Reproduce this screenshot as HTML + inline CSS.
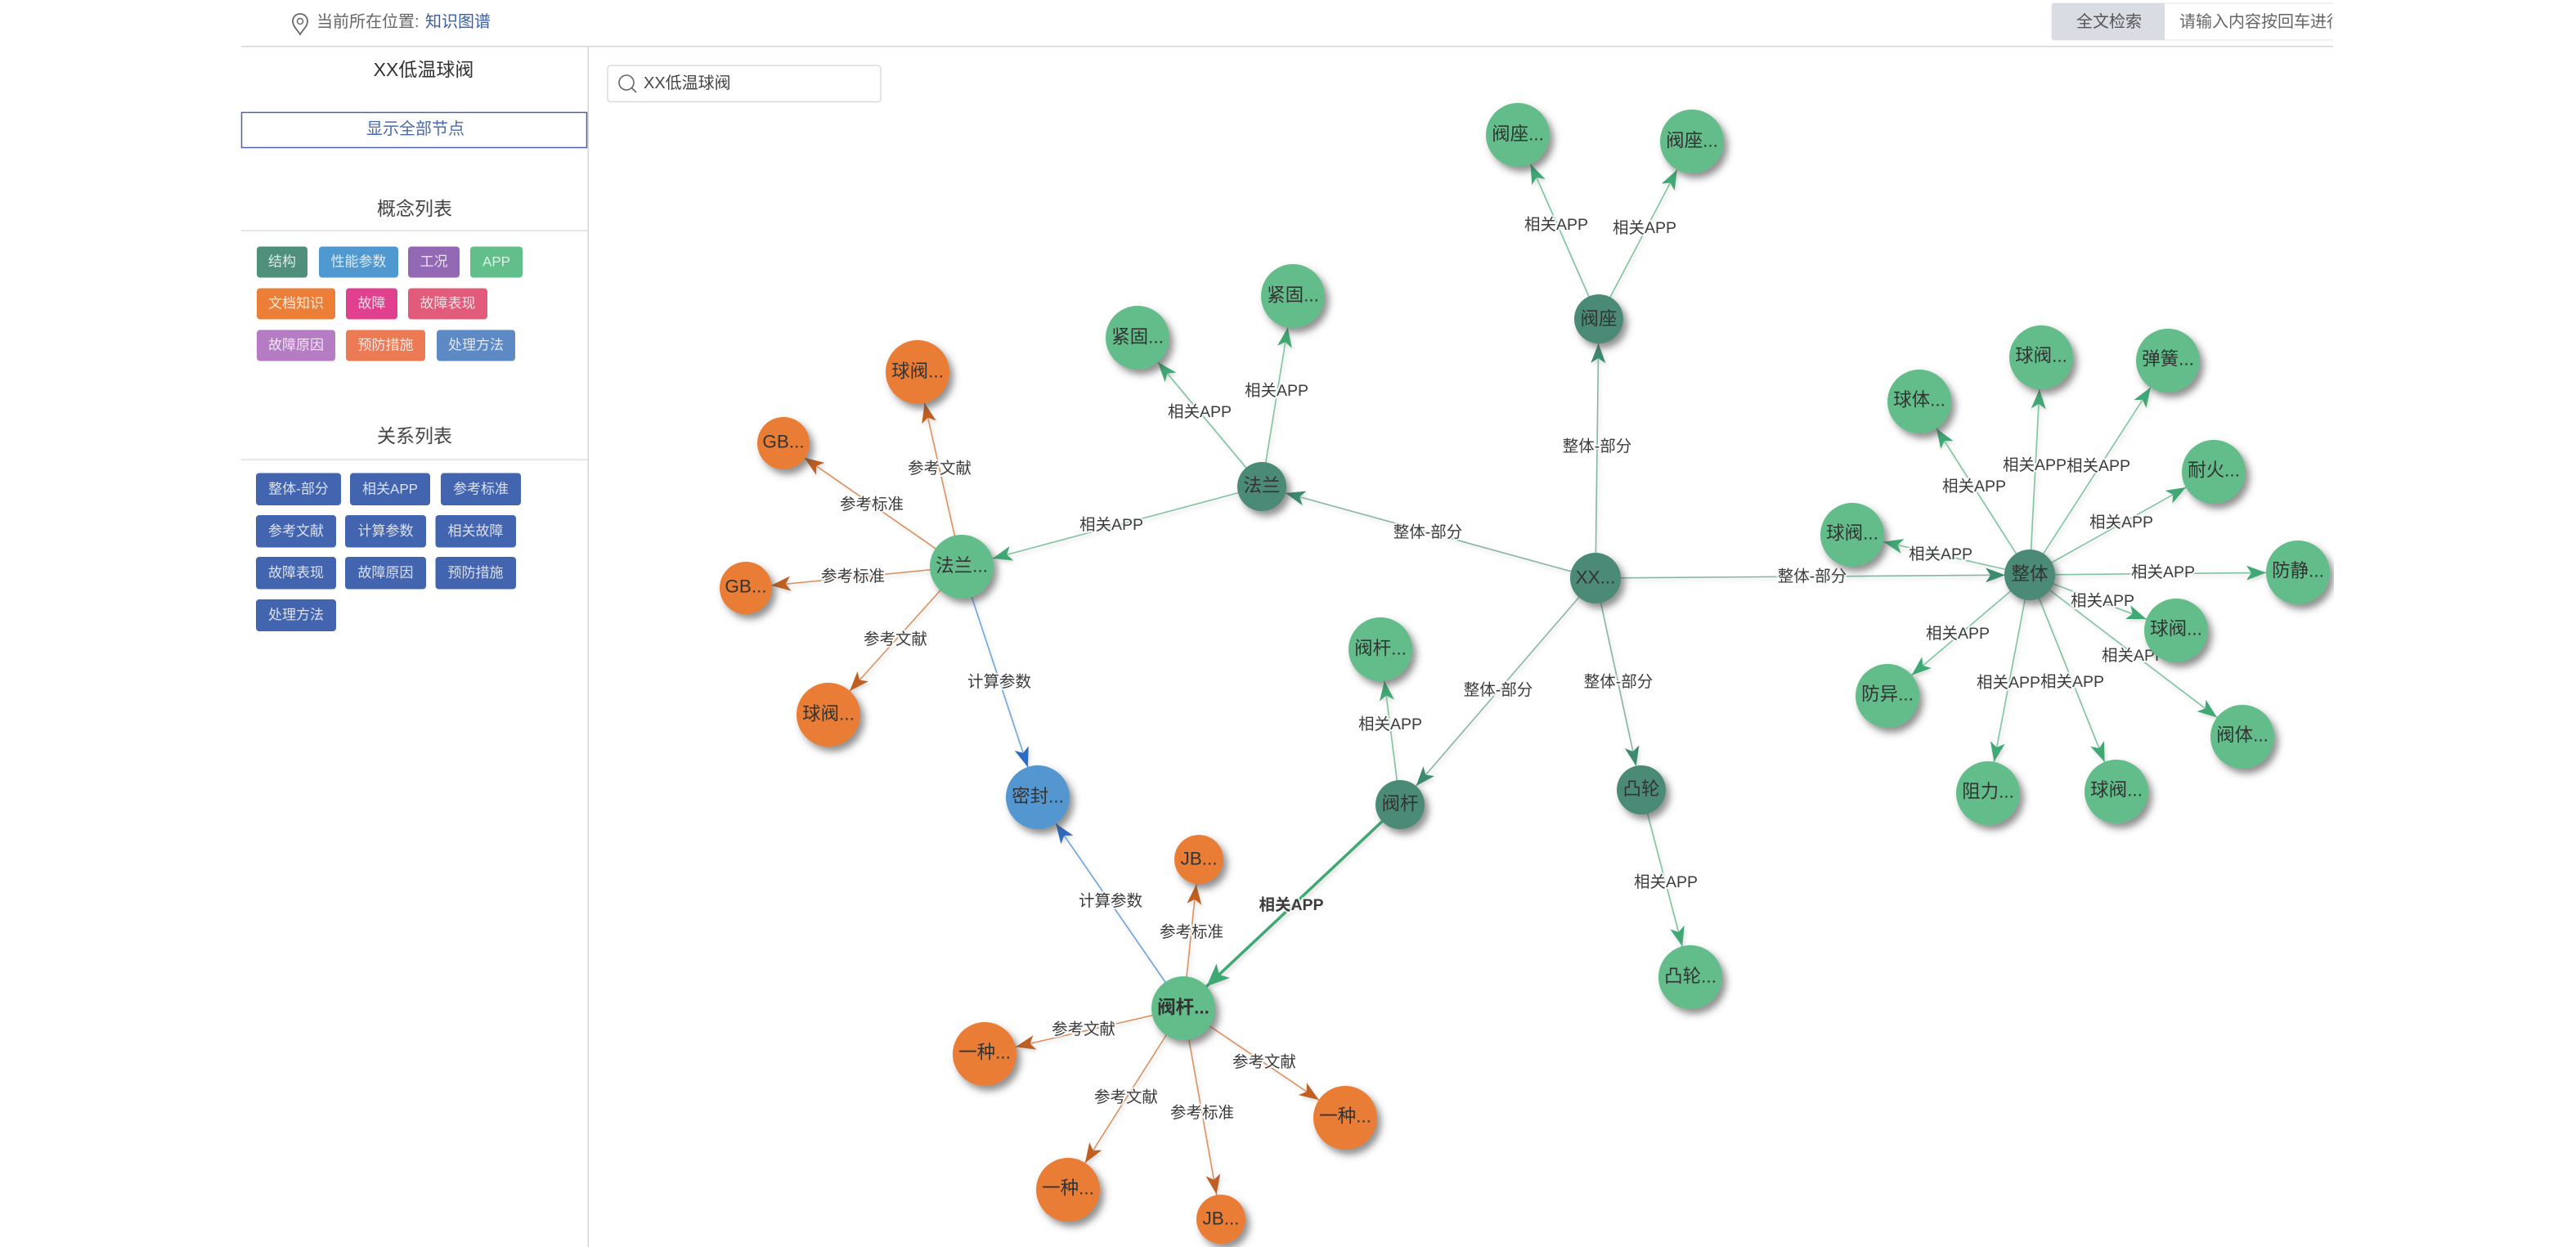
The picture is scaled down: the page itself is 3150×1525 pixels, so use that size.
<!DOCTYPE html>
<html lang="zh">
<head>
<meta charset="utf-8">
<title>知识图谱</title>
<style>
html,body{margin:0;padding:0;background:#fff;width:3150px;height:1525px;overflow:hidden}
svg{display:block}
text{font-family:"Liberation Sans","Noto Sans CJK SC",sans-serif;dominant-baseline:central}
.c{text-anchor:middle}
.tag{font-size:17px;fill:#fff;fill-opacity:.8;text-anchor:middle}
.head{font-size:23px;fill:#444;text-anchor:middle}
.e{stroke-width:1.6;fill:none}
.g{stroke:#7fc3a0}.d{stroke:#86b5a4}.o{stroke:#d9925f}.b{stroke:#6ea6dc}
.l{font-size:19.5px;fill:#3c3c3c;text-anchor:middle;paint-order:stroke;stroke:#fff;stroke-width:4px;stroke-opacity:.75}
.n{font-size:22.5px;fill:#333;text-anchor:middle}
</style>
</head>
<body>
<svg width="3150" height="1525" viewBox="0 0 3150 1525" xmlns="http://www.w3.org/2000/svg">
<defs>
<filter id="sh" x="-40%" y="-40%" width="190%" height="190%"><feDropShadow dx="5" dy="6" stdDeviation="4.5" flood-color="#444" flood-opacity=".6"/></filter>
<filter id="ls" x="-10%" y="-10%" width="120%" height="120%"><feDropShadow dx="2" dy="3" stdDeviation="2.5" flood-color="#777" flood-opacity=".25"/></filter>
<clipPath id="cp"><rect x="0" y="0" width="2853" height="60"/></clipPath>
<marker id="g39" markerUnits="userSpaceOnUse" markerWidth="1" markerHeight="1" refX="0" refY="0" orient="auto" overflow="visible"><path d="M-39,0L-63,-9L-57,0L-63,9Z" fill="#3fa874"/></marker>
<marker id="d30" markerUnits="userSpaceOnUse" markerWidth="1" markerHeight="1" refX="0" refY="0" orient="auto" overflow="visible"><path d="M-30,0L-54,-9L-48,0L-54,9Z" fill="#3e8a70"/></marker>
<marker id="o39" markerUnits="userSpaceOnUse" markerWidth="1" markerHeight="1" refX="0" refY="0" orient="auto" overflow="visible"><path d="M-39,0L-63,-9L-57,0L-63,9Z" fill="#c05f22"/></marker>
<marker id="o31" markerUnits="userSpaceOnUse" markerWidth="1" markerHeight="1" refX="0" refY="0" orient="auto" overflow="visible"><path d="M-31,0L-55,-9L-49,0L-55,9Z" fill="#c05f22"/></marker>
<marker id="b39" markerUnits="userSpaceOnUse" markerWidth="1" markerHeight="1" refX="0" refY="0" orient="auto" overflow="visible"><path d="M-39,0L-63,-9L-57,0L-63,9Z" fill="#2d6cc0"/></marker>
<marker id="g39b" markerUnits="userSpaceOnUse" markerWidth="1" markerHeight="1" refX="0" refY="0" orient="auto" overflow="visible"><path d="M-39,0L-67,-12L-60,0L-67,12Z" fill="#3fa874"/></marker>
</defs>

<!-- header -->
<rect x="295" y="56" width="2558" height="1.5" fill="#d4d6d8"/>
<path d="M367,17c-6,0-9,4.500-9,9c0,6,6,11,9,16c3,-5,9,-10,9,-16c0,-4.500,-3,-9,-9,-9z" fill="none" stroke="#666" stroke-width="1.800"/>
<circle cx="367" cy="26" r="3.500" fill="none" stroke="#666" stroke-width="1.500"/>
<text x="387" y="27" font-size="20" fill="#666">当前所在位置:</text>
<text x="520" y="27" font-size="20" fill="#3a5fa8">知识图谱</text>
<g clip-path="url(#cp)">
<rect x="2509" y="4" width="360" height="45" rx="3" fill="#fff" stroke="#e2e4e8"/>
<path d="M2512,4H2647V49H2512a3,3 0 0 1-3-3V7a3,3 0 0 1 3-3z" fill="#d9dde3"/>
<text x="2579" y="27" class="c" font-size="20" fill="#555">全文检索</text>
<text x="2665" y="27" font-size="20" fill="#666">请输入内容按回车进行</text>
</g>

<!-- sidebar -->
<rect x="718.500" y="57" width="1.500" height="1468" fill="#d4d6d8"/>
<text x="518" y="85" class="c" font-size="23" fill="#333">XX低温球阀</text>
<rect x="295.500" y="137.500" width="422" height="43" fill="#fff" stroke="#4a63a8" stroke-width="1.500"/>
<text x="508" y="158" class="c" font-size="20" fill="#4a6bb0">显示全部节点</text>

<text x="507" y="255" class="head">概念列表</text>
<rect x="295" y="281.500" width="424" height="1.200" fill="#d4d6d8"/>
<rect x="314" y="301.500" width="62" height="38" rx="4" fill="#4f8f7c"/><text x="345" y="320" class="tag">结构</text>
<rect x="390" y="301.500" width="97" height="38" rx="4" fill="#5098d0"/><text x="438.500" y="320" class="tag">性能参数</text>
<rect x="499" y="301.500" width="63" height="38" rx="4" fill="#9368b5"/><text x="530.500" y="320" class="tag">工况</text>
<rect x="575" y="301.500" width="64" height="38" rx="4" fill="#62bf8c"/><text x="607" y="320" class="tag">APP</text>
<rect x="314" y="352.500" width="96" height="38" rx="4" fill="#ec7f37"/><text x="362" y="371" class="tag">文档知识</text>
<rect x="423" y="352.500" width="63" height="38" rx="4" fill="#e0408e"/><text x="454.500" y="371" class="tag">故障</text>
<rect x="499" y="352.500" width="97" height="38" rx="4" fill="#e25b7a"/><text x="547.500" y="371" class="tag">故障表现</text>
<rect x="314" y="403.500" width="96" height="38" rx="4" fill="#b57cc4"/><text x="362" y="422" class="tag">故障原因</text>
<rect x="423" y="403.500" width="97" height="38" rx="4" fill="#ec7b55"/><text x="471.500" y="422" class="tag">预防措施</text>
<rect x="534" y="403.500" width="96" height="38" rx="4" fill="#5d8ac4"/><text x="582" y="422" class="tag">处理方法</text>

<text x="507" y="533" class="head">关系列表</text>
<rect x="295" y="561.500" width="424" height="1.200" fill="#d4d6d8"/>
<g fill="#4365b0">
<rect x="313" y="578.500" width="104" height="39.500" rx="4"/><rect x="428" y="578.500" width="98" height="39.500" rx="4"/><rect x="539" y="578.500" width="98" height="39.500" rx="4"/>
<rect x="313" y="630" width="98" height="39.500" rx="4"/><rect x="422" y="630" width="99" height="39.500" rx="4"/><rect x="532.500" y="630" width="98.500" height="39.500" rx="4"/>
<rect x="313" y="681" width="98" height="39.500" rx="4"/><rect x="422" y="681" width="99" height="39.500" rx="4"/><rect x="532.500" y="681" width="98.500" height="39.500" rx="4"/>
<rect x="313" y="733" width="98" height="39" rx="4"/>
</g>
<text x="365" y="598" class="tag">整体-部分</text><text x="477" y="598" class="tag">相关APP</text><text x="588" y="598" class="tag">参考标准</text>
<text x="362" y="649.500" class="tag">参考文献</text><text x="471.500" y="649.500" class="tag">计算参数</text><text x="581.500" y="649.500" class="tag">相关故障</text>
<text x="362" y="700.500" class="tag">故障表现</text><text x="471.500" y="700.500" class="tag">故障原因</text><text x="581.500" y="700.500" class="tag">预防措施</text>
<text x="362" y="752" class="tag">处理方法</text>

<!-- search -->
<rect x="743" y="80" width="334" height="44.500" rx="4" fill="#fff" stroke="#d8dce0" stroke-width="1.500"/>
<circle cx="766" cy="101" r="9" fill="none" stroke="#666" stroke-width="1.600"/>
<path d="M772.500,107.500L778,113" stroke="#666" stroke-width="1.600"/>
<text x="787" y="102" font-size="20" fill="#444">XX低温球阀</text>

<!-- edges -->
<g filter="url(#ls)">
<line class="e d" x1="1951" y1="707" x2="1955" y2="390" marker-end="url(#d30)"/>
<line class="e g" x1="1955" y1="390" x2="1856" y2="165" marker-end="url(#g39)"/>
<line class="e g" x1="1955" y1="390" x2="2069" y2="173" marker-end="url(#g39)"/>
<line class="e d" x1="1951" y1="707" x2="1543" y2="595" marker-end="url(#d30)"/>
<line class="e g" x1="1543" y1="595" x2="1391" y2="413" marker-end="url(#g39)"/>
<line class="e g" x1="1543" y1="595" x2="1581" y2="362" marker-end="url(#g39)"/>
<line class="e g" x1="1543" y1="595" x2="1176" y2="693" marker-end="url(#g39)"/>
<line class="e o" x1="1176" y1="693" x2="1122" y2="455" marker-end="url(#o39)"/>
<line class="e o" x1="1176" y1="693" x2="958" y2="542" marker-end="url(#o31)"/>
<line class="e o" x1="1176" y1="693" x2="912" y2="719" marker-end="url(#o31)"/>
<line class="e o" x1="1176" y1="693" x2="1013" y2="874" marker-end="url(#o39)"/>
<line class="e b" x1="1176" y1="693" x2="1269" y2="975" marker-end="url(#b39)"/>
<line class="e d" x1="1951" y1="707" x2="2482" y2="703" marker-end="url(#d30)"/>
<line class="e d" x1="1951" y1="707" x2="1712" y2="984" marker-end="url(#d30)"/>
<line class="e d" x1="1951" y1="707" x2="2007" y2="966" marker-end="url(#d30)"/>
<line class="e g" x1="2007" y1="966" x2="2067" y2="1195" marker-end="url(#g39)"/>
<line class="e g" x1="1712" y1="984" x2="1688" y2="794" marker-end="url(#g39)"/>
<line x1="1712" y1="984" x2="1447" y2="1233" stroke="#3fa874" stroke-width="3.500" marker-end="url(#g39b)"/>
<line class="e b" x1="1447" y1="1233" x2="1269" y2="975" marker-end="url(#b39)"/>
<line class="e o" x1="1447" y1="1233" x2="1466" y2="1051" marker-end="url(#o31)"/>
<line class="e o" x1="1447" y1="1233" x2="1204" y2="1289" marker-end="url(#o39)"/>
<line class="e o" x1="1447" y1="1233" x2="1645" y2="1367" marker-end="url(#o39)"/>
<line class="e o" x1="1447" y1="1233" x2="1306" y2="1455" marker-end="url(#o39)"/>
<line class="e o" x1="1447" y1="1233" x2="1493" y2="1491" marker-end="url(#o31)"/>
<line class="e g" x1="2482" y1="703" x2="2347" y2="491" marker-end="url(#g39)"/>
<line class="e g" x1="2482" y1="703" x2="2496" y2="437" marker-end="url(#g39)"/>
<line class="e g" x1="2482" y1="703" x2="2651" y2="441" marker-end="url(#g39)"/>
<line class="e g" x1="2482" y1="703" x2="2707" y2="577" marker-end="url(#g39)"/>
<line class="e g" x1="2482" y1="703" x2="2810" y2="700" marker-end="url(#g39)"/>
<line class="e g" x1="2482" y1="703" x2="2661" y2="771" marker-end="url(#g39)"/>
<line class="e g" x1="2482" y1="703" x2="2742" y2="901" marker-end="url(#g39)"/>
<line class="e g" x1="2482" y1="703" x2="2588" y2="968" marker-end="url(#g39)"/>
<line class="e g" x1="2482" y1="703" x2="2431" y2="970" marker-end="url(#g39)"/>
<line class="e g" x1="2482" y1="703" x2="2308" y2="851" marker-end="url(#g39)"/>
<line class="e g" x1="2482" y1="703" x2="2265" y2="654" marker-end="url(#g39)"/>
</g>

<!-- edge labels -->
<text class="l" x="1953" y="546">整体-部分</text>
<text class="l" x="1903" y="275">相关APP</text>
<text class="l" x="2011" y="279">相关APP</text>
<text class="l" x="1746" y="651">整体-部分</text>
<text class="l" x="1467" y="504">相关APP</text>
<text class="l" x="1561" y="478">相关APP</text>
<text class="l" x="1359" y="642">相关APP</text>
<text class="l" x="1149" y="573">参考文献</text>
<text class="l" x="1066" y="617">参考标准</text>
<text class="l" x="1043" y="705">参考标准</text>
<text class="l" x="1095" y="782">参考文献</text>
<text class="l" x="1222" y="834">计算参数</text>
<text class="l" x="2216" y="705">整体-部分</text>
<text class="l" x="1832" y="844">整体-部分</text>
<text class="l" x="1979" y="834">整体-部分</text>
<text class="l" x="2037" y="1079">相关APP</text>
<text class="l" x="1700" y="886">相关APP</text>
<text class="l" x="1579" y="1107" font-weight="bold">相关APP</text>
<text class="l" x="1358" y="1102">计算参数</text>
<text class="l" x="1457" y="1140">参考标准</text>
<text class="l" x="1325" y="1259">参考文献</text>
<text class="l" x="1546" y="1299">参考文献</text>
<text class="l" x="1377" y="1342">参考文献</text>
<text class="l" x="1470" y="1361">参考标准</text>
<text class="l" x="2414" y="595">相关APP</text>
<text class="l" x="2488" y="569">相关APP</text>
<text class="l" x="2566" y="570">相关APP</text>
<text class="l" x="2594" y="639">相关APP</text>
<text class="l" x="2645" y="700">相关APP</text>
<text class="l" x="2571" y="735">相关APP</text>
<text class="l" x="2609" y="802">相关APP</text>
<text class="l" x="2534" y="834">相关APP</text>
<text class="l" x="2456" y="835">相关APP</text>
<text class="l" x="2394" y="775">相关APP</text>
<text class="l" x="2373" y="678">相关APP</text>

<!-- nodes -->
<g filter="url(#sh)">
<g fill="#4c8a76">
<circle cx="1951" cy="707" r="31"/><circle cx="1955" cy="390" r="30"/><circle cx="1543" cy="595" r="30"/><circle cx="2482" cy="703" r="31"/><circle cx="1712" cy="984" r="30"/><circle cx="2007" cy="966" r="30"/>
</g>
<g fill="#62bd8a">
<circle cx="1856" cy="165" r="39"/><circle cx="2069" cy="173" r="39"/><circle cx="1391" cy="413" r="39"/><circle cx="1581" cy="362" r="39"/><circle cx="1176" cy="693" r="39"/><circle cx="1688" cy="794" r="39"/><circle cx="2067" cy="1195" r="39"/><circle cx="1447" cy="1233" r="39"/>
<circle cx="2347" cy="491" r="39"/><circle cx="2496" cy="437" r="39"/><circle cx="2651" cy="441" r="39"/><circle cx="2707" cy="577" r="39"/><circle cx="2810" cy="700" r="39"/><circle cx="2661" cy="771" r="39"/><circle cx="2742" cy="901" r="39"/><circle cx="2588" cy="968" r="39"/><circle cx="2431" cy="970" r="39"/><circle cx="2308" cy="851" r="39"/><circle cx="2265" cy="654" r="39"/>
</g>
<g fill="#ea7d34">
<circle cx="1122" cy="455" r="39"/><circle cx="958" cy="542" r="32"/><circle cx="912" cy="719" r="32"/><circle cx="1013" cy="874" r="39"/><circle cx="1466" cy="1051" r="30"/><circle cx="1204" cy="1289" r="39"/><circle cx="1645" cy="1367" r="39"/><circle cx="1306" cy="1455" r="39"/><circle cx="1493" cy="1491" r="30"/>
</g>
<circle cx="1269" cy="975" r="39" fill="#5296d0"/>
</g>
<!-- cover anything past the content's right edge -->
<rect x="2854" y="0" width="296" height="1525" fill="#fff"/>

<!-- node labels -->
<text class="n" x="1951" y="706">XX...</text>
<text class="n" x="1955" y="390">阀座</text>
<text class="n" x="1543" y="594">法兰</text>
<text class="n" x="2482" y="702">整体</text>
<text class="n" x="1712" y="983">阀杆</text>
<text class="n" x="2007" y="965">凸轮</text>
<text class="n" x="1856" y="164">阀座...</text>
<text class="n" x="2069" y="172">阀座...</text>
<text class="n" x="1391" y="412">紧固...</text>
<text class="n" x="1581" y="361">紧固...</text>
<text class="n" x="1176" y="692">法兰...</text>
<text class="n" x="1688" y="793">阀杆...</text>
<text class="n" x="2067" y="1194">凸轮...</text>
<text class="n" x="1447" y="1232" font-weight="bold">阀杆...</text>
<text class="n" x="2347" y="489">球体...</text>
<text class="n" x="2496" y="435">球阀...</text>
<text class="n" x="2651" y="439">弹簧...</text>
<text class="n" x="2707" y="575">耐火...</text>
<text class="n" x="2810" y="698">防静...</text>
<text class="n" x="2661" y="769">球阀...</text>
<text class="n" x="2742" y="899">阀体...</text>
<text class="n" x="2588" y="966">球阀...</text>
<text class="n" x="2431" y="968">阻力...</text>
<text class="n" x="2308" y="849">防异...</text>
<text class="n" x="2265" y="652">球阀...</text>
<text class="n" x="1122" y="454">球阀...</text>
<text class="n" x="958" y="540">GB...</text>
<text class="n" x="912" y="717">GB...</text>
<text class="n" x="1013" y="873">球阀...</text>
<text class="n" x="1466" y="1050">JB...</text>
<text class="n" x="1204" y="1287">一种...</text>
<text class="n" x="1645" y="1365">一种...</text>
<text class="n" x="1306" y="1453">一种...</text>
<text class="n" x="1493" y="1490">JB...</text>
<text class="n" x="1269" y="974">密封...</text>
</svg>
</body>
</html>
